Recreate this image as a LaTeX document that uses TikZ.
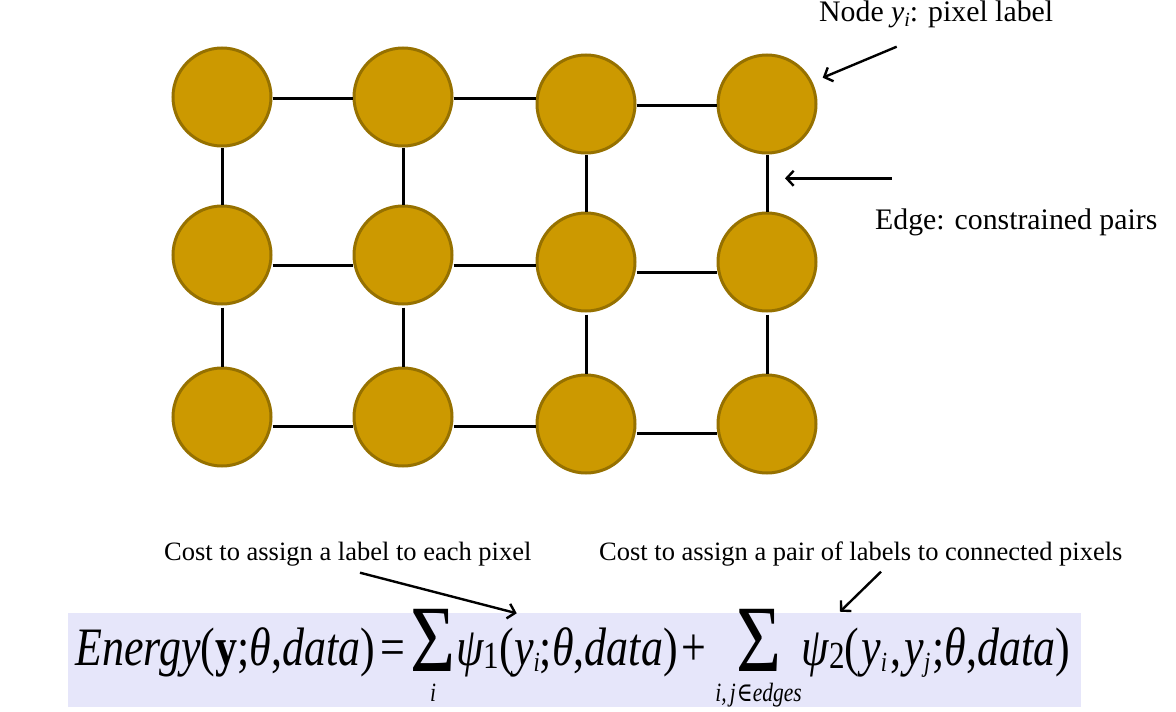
\documentclass[tikz,border=0pt]{standalone}
\usepackage{fontspec}
\setmainfont{Liberation Serif}
\newfontfamily\dejavuserif{DejaVu Serif}
\usepackage{graphicx}
\usetikzlibrary{arrows.meta}
\definecolor{gold}{RGB}{204,153,0}
\definecolor{golddark}{RGB}{150,113,0}
\definecolor{lav}{RGB}{230,230,250}
\newlength\sumwd
\newcommand\bigsig{\raisebox{-5pt}{\fontsize{72}{72}\selectfont\upshape Σ}}
\newcommand\limtxt[1]{{\fontsize{20}{20}\selectfont\itshape #1}}
\newcommand\SumLim[1]{\settowidth\sumwd{\limtxt{#1}}\ifdim\sumwd<44pt\setlength\sumwd{44pt}\fi\makebox[\sumwd]{\bigsig}\hspace{-\sumwd}\makebox[\sumwd]{\raisebox{-28pt}{\limtxt{#1}}}}
\newcommand\eqsub[1]{\raisebox{-5pt}{\fontsize{21}{21}\selectfont\itshape #1}}
\newcommand\eqsubn[1]{\raisebox{-3pt}{\fontsize{29}{29}\selectfont\upshape #1}}
\begin{document}
\begin{tikzpicture}[x=1pt,y=-1pt,
  pixel/.style={circle,fill=gold,draw=golddark,line width=3pt,minimum size=98pt,inner sep=0pt},
  link/.style={line width=3pt,black},
  callout/.style={line width=2.4pt,black,-{Straight Barb[length=7pt,width=15pt]}},
  lbl/.style={inner sep=0pt,anchor=base west,font=\fontsize{29.8}{32}\selectfont},
  costlbl/.style={inner sep=0pt,anchor=base west,font=\fontsize{26.5}{28}\selectfont}]
\useasboundingbox (0,0) rectangle (1176,712);
% background of the equation
\node[fill=lav,inner sep=0pt,minimum width=1013pt,minimum height=94.3pt,anchor=north west] (eqbox) at (67.5,612.7) {};
% grid of pixels
\node[pixel] (n11) at (222,97) {};
\node[pixel] (n12) at (403,97) {};
\node[pixel] (n13) at (586,104) {};
\node[pixel] (n14) at (767,104) {};
\node[pixel] (n21) at (222,255) {};
\node[pixel] (n22) at (403,255) {};
\node[pixel] (n23) at (586,262) {};
\node[pixel] (n24) at (767,262) {};
\node[pixel] (n31) at (222,417) {};
\node[pixel] (n32) at (403,417) {};
\node[pixel] (n33) at (586,424) {};
\node[pixel] (n34) at (767,424) {};
% horizontal edges
\draw[link] ([yshift=-1pt]n11.east) -- ([yshift=-1pt]n12.west);
\draw[link] ([yshift=-1pt]n12.east) -- ([yshift=6pt]n13.west);
\draw[link] ([yshift=-1pt]n13.east) -- ([yshift=-1pt]n14.west);
\draw[link] ([yshift=-10pt]n21.east) -- ([yshift=-10pt]n22.west);
\draw[link] ([yshift=-10pt]n22.east) -- ([yshift=-3pt]n23.west);
\draw[link] ([yshift=-10pt]n23.east) -- ([yshift=-10pt]n24.west);
\draw[link] ([yshift=-9pt]n31.east) -- ([yshift=-9pt]n32.west);
\draw[link] ([yshift=-9pt]n32.east) -- ([yshift=-2pt]n33.west);
\draw[link] ([yshift=-9pt]n33.east) -- ([yshift=-9pt]n34.west);
% vertical edges
\draw[link] (n11.south) -- (n21.north);
\draw[link] (n12.south) -- (n22.north);
\draw[link] (n13.south) -- (n23.north);
\draw[link] (n14.south) -- (n24.north);
\draw[link] ([yshift=-2pt]n21.south) -- (n31.north);
\draw[link] ([yshift=-2pt]n22.south) -- (n32.north);
\draw[link] ([yshift=-2pt]n23.south) -- (n33.north);
\draw[link] ([yshift=-2pt]n24.south) -- (n34.north);
% labels
\node[lbl] (lnode) at (819,21.7) {Node {\itshape y}\raisebox{-5pt}{\fontsize{20}{20}\selectfont\itshape i}: pixel label};
\node[lbl] (ledge) at (875,229.3) {Edge: constrained pairs};
\node[costlbl] (lcost1) at (164,560) {Cost to assign a label to each pixel};
\node[costlbl] (lcost2) at (599,560) {Cost to assign a pair of labels to connected pixels};
% callout arrows
\coordinate (nodeTail) at (896.7,46.7);
\coordinate (nodeHead) at (822.7,77.7);
\coordinate (edgeTail) at (891.7,178.3);
\coordinate (edgeHead) at (785,178.3);
\coordinate (c1Tail) at (360,572.7);
\coordinate (c1Head) at (516.7,613.3);
\coordinate (c2Tail) at (881,571.7);
\coordinate (c2Head) at (840,611.7);
\draw[callout] (nodeTail) -- (nodeHead);
\draw[callout] (edgeTail) -- (edgeHead);
\draw[callout] (c1Tail) -- (c1Head);
\draw[callout] (c2Tail) -- (c2Head);
% equation
\node[inner sep=0pt,anchor=base west] (eq) at (75,665) {\resizebox{995pt}{!}{\scalebox{1}[1.23]{\fontsize{41}{41}\selectfont
{\itshape Energy}(\textbf{y};{\itshape θ},{\itshape data})\hspace{5pt}=\hspace{4pt}\SumLim{i}{\itshape ψ}\eqsubn{1}({\itshape y}\eqsub{i};{\itshape θ},{\itshape data})\hspace{4pt}+\hspace{8pt}\SumLim{i,\hspace{3pt}j\hspace{1pt}{\dejavuserif\upshape ∈}edges}{\itshape ψ}\eqsubn{2}(\hspace{2pt}{\itshape y}\eqsub{i}\hspace{3pt},\hspace{3pt}{\itshape y}\eqsub{j}\hspace{2pt};{\itshape θ},{\itshape data})}}};
\end{tikzpicture}
\end{document}
